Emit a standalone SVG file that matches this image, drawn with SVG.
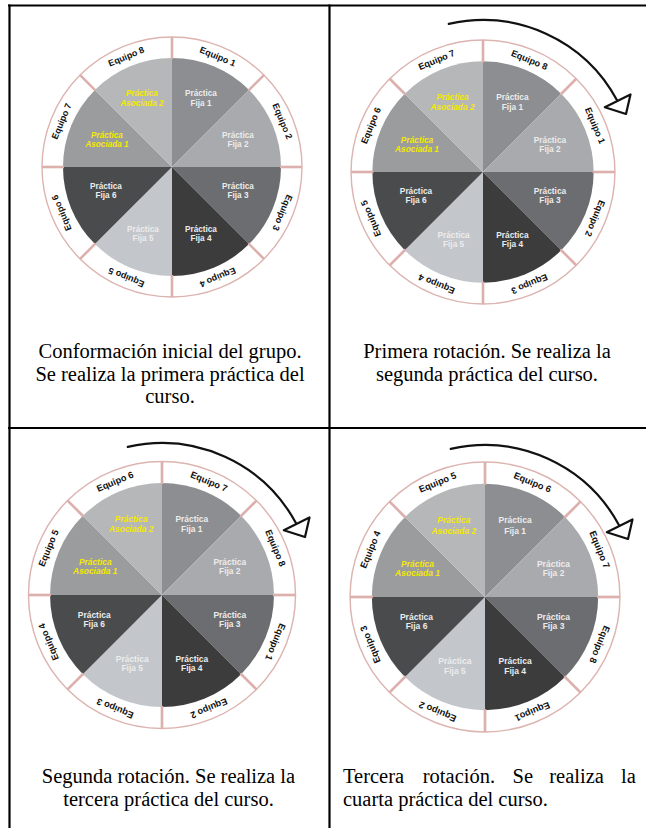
<svg xmlns="http://www.w3.org/2000/svg" xmlns:xlink="http://www.w3.org/1999/xlink" width="646" height="828" viewBox="0 0 646 828">
<style>
.tbl{stroke:#000;stroke-width:2.2;fill:none}
.ring{fill:#fff;stroke:#dcb4b0;stroke-width:1.4}
.div{stroke:#dcb0ac;stroke-width:2.6}
.eq{font-family:"Liberation Sans",Arial,sans-serif;font-weight:bold;font-size:9px;fill:#111;text-anchor:middle}
.pt{font-family:"Liberation Sans",Arial,sans-serif;font-weight:bold;font-size:8.2px;fill:#ececec;text-anchor:middle}
.pa{font-family:"Liberation Sans",Arial,sans-serif;font-weight:bold;font-style:italic;font-size:8.2px;fill:#f5ea00;text-anchor:middle}
.cap{font-family:"Liberation Serif","Times New Roman",serif;font-size:20.5px;fill:#000}
.arr{fill:none;stroke:#111;stroke-width:2.2;stroke-linecap:round}
.head{fill:#fff;stroke:#111;stroke-width:2.2;stroke-linejoin:round}
</style>
<defs>
<g id="wheelBase">
<circle r="130" class="ring"/>
<path d="M0,0 L0,-109 A109,109 0 0 1 77.07,-77.07 Z" fill="#8d8e91"/>
<path d="M0,0 L77.07,-77.07 A109,109 0 0 1 109,0 Z" fill="#a9aaad"/>
<path d="M0,0 L109,0 A109,109 0 0 1 77.07,77.07 Z" fill="#6c6d70"/>
<path d="M0,0 L77.07,77.07 A109,109 0 0 1 0,109 Z" fill="#3c3c3d"/>
<path d="M0,0 L0,109 A109,109 0 0 1 -77.07,77.07 Z" fill="#c3c6cb"/>
<path d="M0,0 L-77.07,77.07 A109,109 0 0 1 -109,0 Z" fill="#4a4b4d"/>
<path d="M0,0 L-109,0 A109,109 0 0 1 -77.07,-77.07 Z" fill="#9b9c9e"/>
<path d="M0,0 L-77.07,-77.07 A109,109 0 0 1 0,-109 Z" fill="#b6b7b9"/>
<line class="div" x1="0" y1="-108" x2="0" y2="-130"/>
<line class="div" x1="76.4" y1="-76.4" x2="91.9" y2="-91.9"/>
<line class="div" x1="108" y1="0" x2="130" y2="0"/>
<line class="div" x1="76.4" y1="76.4" x2="91.9" y2="91.9"/>
<line class="div" x1="0" y1="108" x2="0" y2="130"/>
<line class="div" x1="-76.4" y1="76.4" x2="-91.9" y2="91.9"/>
<line class="div" x1="-108" y1="0" x2="-130" y2="0"/>
<line class="div" x1="-76.4" y1="-76.4" x2="-91.9" y2="-91.9"/>
<text class="pt" x="29" y="-71">Práctica</text><text class="pt" x="29" y="-61">Fija 1</text>
<text class="pt" x="66" y="-29">Práctica</text><text class="pt" x="66" y="-20">Fija 2</text>
<text class="pt" x="66" y="22">Práctica</text><text class="pt" x="66" y="31">Fija 3</text>
<text class="pt" x="29" y="65">Práctica</text><text class="pt" x="29" y="74">Fija 4</text>
<text class="pt" x="-29" y="65">Práctica</text><text class="pt" x="-29" y="74">Fija 5</text>
<text class="pt" x="-66" y="22">Práctica</text><text class="pt" x="-66" y="31">Fija 6</text>
<text class="pa" x="-65" y="-29">Práctica</text><text class="pa" x="-65" y="-20">Asociada 1</text>
<text class="pa" x="-30" y="-71">Práctica</text><text class="pa" x="-30" y="-61">Asociada 2</text>
</g>
<g id="arrow">
<path class="arr" d="M-34.2,-148.1 A152,152 0 0 1 134.2,-71.4"/>
<polygon class="head" points="121.8,-64.8 147.5,-77.5 143,-58"/>
</g>
</defs>

<g id="table">
<line class="tbl" x1="8" y1="5.5" x2="646" y2="5.5"/>
<line class="tbl" x1="9.5" y1="4.5" x2="9.5" y2="828"/>
<line class="tbl" x1="329.5" y1="4.5" x2="329.5" y2="828"/>
<line class="tbl" x1="8" y1="428" x2="646" y2="428"/>
</g>

<g id="wheel1" transform="translate(172,167)">
<use xlink:href="#wheelBase"/>
<text class="eq" y="-116.5" transform="rotate(22.5)">Equipo 1</text>
<text class="eq" y="-116.5" transform="rotate(67.5)">Equipo 2</text>
<text class="eq" y="-116.5" transform="rotate(112.5)">Equipo 3</text>
<text class="eq" y="-116.5" transform="rotate(157.5)">Equipo 4</text>
<text class="eq" y="-116.5" transform="rotate(202.5)">Equipo 5</text>
<text class="eq" y="-116.5" transform="rotate(247.5)">Equipo 6</text>
<text class="eq" y="-116.5" transform="rotate(292.5)">Equipo 7</text>
<text class="eq" y="-116.5" transform="rotate(337.5)">Equipo 8</text>
</g>

<g id="wheel2" transform="translate(483,172) scale(1.015)">
<use xlink:href="#wheelBase"/>
<text class="eq" y="-116.5" transform="rotate(22.5)">Equipo 8</text>
<text class="eq" y="-116.5" transform="rotate(67.5)">Equipo 1</text>
<text class="eq" y="-116.5" transform="rotate(112.5)">Equipo 2</text>
<text class="eq" y="-116.5" transform="rotate(157.5)">Equipo 3</text>
<text class="eq" y="-116.5" transform="rotate(202.5)">Equipo 4</text>
<text class="eq" y="-116.5" transform="rotate(247.5)">Equipo 5</text>
<text class="eq" y="-116.5" transform="rotate(292.5)">Equipo 6</text>
<text class="eq" y="-116.5" transform="rotate(337.5)">Equipo 7</text>
</g>

<g id="wheel3" transform="translate(162,595) scale(1.027)">
<use xlink:href="#wheelBase"/>
<text class="eq" y="-116.5" transform="rotate(22.5)">Equipo 7</text>
<text class="eq" y="-116.5" transform="rotate(67.5)">Equipo 8</text>
<text class="eq" y="-116.5" transform="rotate(112.5)">Equipo 1</text>
<text class="eq" y="-116.5" transform="rotate(157.5)">Equipo 2</text>
<text class="eq" y="-116.5" transform="rotate(202.5)">Equipo 3</text>
<text class="eq" y="-116.5" transform="rotate(247.5)">Equipo 4</text>
<text class="eq" y="-116.5" transform="rotate(292.5)">Equipo 5</text>
<text class="eq" y="-116.5" transform="rotate(337.5)">Equipo 6</text>
</g>

<g id="wheel4" transform="translate(485,597) scale(1.038)">
<use xlink:href="#wheelBase"/>
<text class="eq" y="-116.5" transform="rotate(22.5)">Equipo 6</text>
<text class="eq" y="-116.5" transform="rotate(67.5)">Equipo 7</text>
<text class="eq" y="-116.5" transform="rotate(112.5)">Equipo 8</text>
<text class="eq" y="-116.5" transform="rotate(157.5)">Equipo1</text>
<text class="eq" y="-116.5" transform="rotate(202.5)">Equipo 2</text>
<text class="eq" y="-116.5" transform="rotate(247.5)">Equipo 3</text>
<text class="eq" y="-116.5" transform="rotate(292.5)">Equipo 4</text>
<text class="eq" y="-116.5" transform="rotate(337.5)">Equipo 5</text>
</g>

<g id="connectors">
<use xlink:href="#arrow" transform="translate(483,172)"/>
<use xlink:href="#arrow" transform="translate(162,595)"/>
<use xlink:href="#arrow" transform="translate(485,597)"/>
</g>

<g id="caption1" class="cap" text-anchor="middle">
<text x="170" y="358">Conformación inicial del grupo.</text>
<text x="170" y="381">Se realiza la primera práctica del</text>
<text x="170" y="403">curso.</text>
</g>
<g id="caption2" class="cap" text-anchor="middle">
<text x="487" y="358">Primera rotación. Se realiza la</text>
<text x="487" y="381">segunda práctica del curso.</text>
</g>
<g id="caption3" class="cap" text-anchor="middle">
<text x="168.5" y="783">Segunda rotación. Se realiza la</text>
<text x="168.5" y="806">tercera práctica del curso.</text>
</g>
<g id="caption4" class="cap">
<text y="783"><tspan x="343">Tercera</tspan><tspan x="422.8">rotación.</tspan><tspan x="512.6">Se</tspan><tspan x="549.3">realiza</tspan><tspan x="621">la</tspan></text>
<text x="343" y="806">cuarta práctica del curso.</text>
</g>
</svg>
